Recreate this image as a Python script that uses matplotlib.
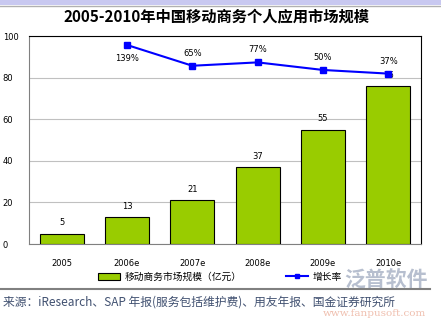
import matplotlib.pyplot as plt
from matplotlib.lines import Line2D
from matplotlib.patches import Patch, Rectangle

plt.rcParams['font.family'] = ['Noto Sans CJK SC', 'DejaVu Sans']

years = ['2005', '2006e', '2007e', '2008e', '2009e', '2010e']
market = [5, 13, 21, 37, 55, 76]
growth = [None, 139, 65, 77, 50, 37]
growth_labels = ['', '139%', '65%', '77%', '50%', '37%']

W, H = 441, 321
fig = plt.figure(figsize=(W / 100, H / 100), dpi=100)
fig.patch.set_facecolor('white')

def px(x0, y0, x1, y1):
    # pixel box -> figure fraction rect
    return [x0 / W, 1 - y1 / H, (x1 - x0) / W, (y1 - y0) / H]

# top band
fig.patches.append(Rectangle((0, 1 - 5 / H), 1, 5 / H, transform=fig.transFigure,
                             facecolor='#c8c8f0', edgecolor='none'))
fig.add_artist(Line2D([0, 1], [1 - 6 / H, 1 - 6 / H], transform=fig.transFigure,
                      color='#b0b0b0', lw=1))

fig.text(0.49, 1 - 16 / H, '2005-2010年中国移动商务个人应用市场规模', ha='center', va='center',
         fontsize=11, fontweight='bold', color='black')

ax = fig.add_axes(px(29, 36, 421, 244))
x = list(range(len(years)))
bars = ax.bar(x, market, width=0.67, color='#99cc00', edgecolor='black', linewidth=0.8, zorder=3)
for xi, v in zip(x, market):
    ax.text(xi, v + 3, str(v), ha='center', va='bottom', fontsize=6, family='DejaVu Sans')

ax.set_xlim(-0.5, 5.5)
ax.set_ylim(0, 100)
ax.set_yticks([0, 20, 40, 60, 80, 100])
ax.set_yticklabels(['0', '20', '40', '60', '80', '100'], fontsize=6, family='DejaVu Sans')
ax.set_xticks(x)
ax.set_xticklabels(years, fontsize=6, family='DejaVu Sans')
ax.tick_params(axis='both', length=0)
ax.tick_params(axis='y', pad=19)
for lab in ax.get_yticklabels():
    lab.set_horizontalalignment('left')
ax.tick_params(axis='x', pad=11)
ax.yaxis.grid(True, color='#c0c0c0', lw=0.8, zorder=0)
ax.set_axisbelow(True)
ax.spines['top'].set_color('black')
ax.spines['right'].set_color('black')
ax.spines['left'].set_color('#808080')
ax.spines['bottom'].set_color('#808080')

ax2 = ax.twinx()
gx = [xi for xi, g in zip(x, growth) if g is not None]
gy = [g for g in growth if g is not None]
ax2.plot(gx, gy, color='#0000ff', lw=1.5, marker='s', markersize=4, zorder=4)
ax2.set_ylim(-570, 171)
ax2.set_yticks([])
for sp in ax2.spines.values():
    sp.set_visible(False)
for xi, g, lab in zip(x, growth, growth_labels):
    if g is None:
        continue
    if xi == 1:
        ax2.annotate(lab, (xi, g), xytext=(0, -10), textcoords='offset points',
                     ha='center', va='center', fontsize=6, family='DejaVu Sans')
    else:
        ax2.annotate(lab, (xi, g), xytext=(0, 9), textcoords='offset points',
                     ha='center', va='center', fontsize=6, family='DejaVu Sans')

handles = [Patch(facecolor='#99cc00', edgecolor='black', lw=0.8),
           Line2D([], [], color='#0000ff', lw=1.5, marker='s', markersize=3)]
fig.legend(handles, ['移动商务市场规模（亿元）', '增长率'], loc='center',
           bbox_to_anchor=(220 / W, 1 - 277 / H), ncol=2, frameon=False, fontsize=7,
           handlelength=2.3, handleheight=0.8, handletextpad=0.5, columnspacing=4.5)

fig.add_artist(Line2D([0, 430 / W], [1 - 289 / H, 1 - 289 / H], transform=fig.transFigure,
                      color='#808080', lw=1.5))
fig.text(3 / W, 1 - 302 / H, '来源：iResearch、SAP 年报(服务包括维护费)、用友年报、国金证券研究所',
         ha='left', va='center', fontsize=8.5, color='#405070')

# watermark
fig.text(386 / W, 1 - 280 / H, '泛普软件', ha='center', va='center', fontsize=15,
         color='#7080a0', alpha=0.5, fontweight='bold')
fig.text(374 / W, 1 - 314 / H, 'www.fanpusoft.com', ha='center', va='center', fontsize=7.5,
         color='#e08060', alpha=0.5, family='DejaVu Serif')

fig.savefig('out.png', dpi=100)
